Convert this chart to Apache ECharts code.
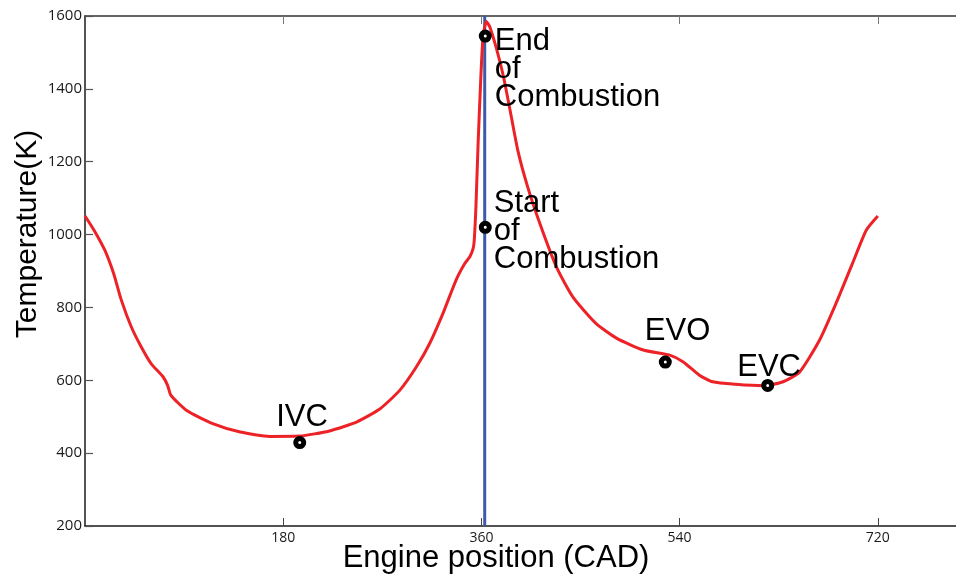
<!DOCTYPE html>
<html>
<head>
<meta charset="utf-8">
<title>Engine cycle temperature</title>
<script src="https://cdn.jsdelivr.net/npm/echarts@6/dist/echarts.min.js"></script>
<style>
  html, body { margin: 0; padding: 0; background: #fff; }
  #chart { width: 956px; height: 576px; }
</style>
</head>
<body>
<div id="chart"></div>
<script>
// In-cylinder temperature over one 720 CAD engine cycle
const crankAngle = [
  0, 9, 18, 26, 33, 42, 51, 60, 71, 75, 78, 92, 116, 141, 168, 195, 222, 247,
  268, 286, 301, 313, 325, 337, 345, 349.5, 352.5, 353.5, 355, 357, 359.5,
  361.5, 364.5, 367.5, 374, 380, 386, 393, 402, 413, 428, 443, 464, 483, 507,
  531, 543, 558, 570, 591, 616, 634, 649, 667, 682, 697, 709.5, 720
];
const temperature = [
  1051, 1008, 957, 893, 820, 747, 692, 646, 609, 586, 559, 518, 481, 458, 446, 447, 461, 486,
  522, 573, 637, 701, 783, 875, 921, 939, 962, 985, 1075, 1250, 1433,
  1543, 1585, 1571, 1507, 1434, 1342, 1232, 1131, 1031, 912, 829, 756, 715, 683,
  669, 651, 614, 596, 589, 585, 596, 623, 710, 811, 921, 1012, 1051
];

// Cycle events
const eventNames = ['IVC', 'Start\nof\nCombustion', 'End\nof\nCombustion', 'EVO', 'EVC'];
const eventAngle = [195, 363.5, 363.5, 527, 620];
const eventTemp = [429, 1020, 1545, 650, 586];

// Combustion reference line (CAD)
const combustionAngle = 363;

// Axis ticks
const xTickValues = [180, 360, 540, 720];
const yMin = 200, yMax = 1600, yStep = 200;
const xMin = 0, xMax = 791;

// Label placement for each event (px, relative to the marker's right edge)
const eventLabelOffset = [[-30, -39], [2, -38], [3, -9], [-27, -45], [-37, -32]];

const chart = echarts.init(document.getElementById('chart'), null, { renderer: 'canvas' });

const textFont = 'Liberation Sans, Arial, Helvetica, sans-serif';
const tickFont = 'Open Sans, Noto Sans, sans-serif';

const option = {
  animation: false,
  backgroundColor: '#ffffff',
  grid: { left: 85, right: 0, top: 16, bottom: 50, containLabel: false },
  xAxis: [
    {
      type: 'value', min: xMin, max: xMax, position: 'bottom',
      axisLine: { show: true, onZero: false, lineStyle: { color: '#1a1a1a', width: 1.5 } },
      axisTick: { show: true, inside: true, length: 8, customValues: xTickValues,
                  lineStyle: { color: '#444', width: 1 } },
      axisLabel: { show: true, customValues: xTickValues, margin: 5, color: '#1a1a1a',
                   fontFamily: tickFont, fontSize: 14, formatter: v => String(v) },
      splitLine: { show: false }
    },
    {
      type: 'value', min: xMin, max: xMax, position: 'top',
      axisLine: { show: true, onZero: false, lineStyle: { color: '#333', width: 1.5 } },
      axisTick: { show: true, inside: true, length: 8, customValues: xTickValues,
                  lineStyle: { color: '#777', width: 1 } },
      axisLabel: { show: false },
      splitLine: { show: false }
    }
  ],
  yAxis: {
    type: 'value', min: yMin, max: yMax, interval: yStep,
    axisLine: { show: true, onZero: false, lineStyle: { color: '#1a1a1a', width: 1.5 } },
    axisTick: { show: true, inside: true, length: 8, lineStyle: { color: '#555', width: 1.2 } },
    axisLabel: { margin: 3, color: '#1a1a1a', fontFamily: tickFont, fontSize: 15,
                 formatter: v => String(v) },
    splitLine: { show: false }
  },
  graphic: [
    {
      type: 'text', x: 496, y: 558, silent: true,
      style: { text: 'Engine position (CAD)', font: '31px ' + textFont, fill: '#000',
               align: 'center', verticalAlign: 'middle' }
    },
    {
      type: 'text', x: 28, y: 234, rotation: Math.PI / 2, silent: true,
      style: { text: 'Temperature(K)', font: '30px ' + textFont, fill: '#000',
               align: 'center', verticalAlign: 'middle' }
    }
  ],
  series: [
    {
      name: 'combustion',
      type: 'line',
      data: [[combustionAngle, yMin], [combustionAngle, yMax]],
      symbol: 'none',
      lineStyle: { color: '#3c5aa8', width: 3 },
      z: 2
    },
    {
      name: 'Temperature',
      type: 'line',
      data: crankAngle.map((a, i) => [a, temperature[i]]),
      symbol: 'none',
      smooth: 0.2,
      lineStyle: { color: '#ec2227', width: 3 },
      z: 3
    },
    {
      name: 'events',
      type: 'scatter',
      data: eventAngle.map((a, i) => ({
        value: [a, eventTemp[i]],
        label: {
          show: true,
          formatter: eventNames[i],
          position: 'right',
          distance: 0,
          offset: eventLabelOffset[i],
          align: 'left',
          verticalAlign: 'top'
        }
      })),
      symbol: 'circle',
      symbolSize: 8,
      itemStyle: { color: '#ffffff', borderColor: '#000000', borderWidth: 5, opacity: 1 },
      label: {
        color: '#000', fontFamily: textFont, fontSize: 31, lineHeight: 28
      },
      z: 5
    }
  ]
};

chart.setOption(option);
</script>
</body>
</html>
